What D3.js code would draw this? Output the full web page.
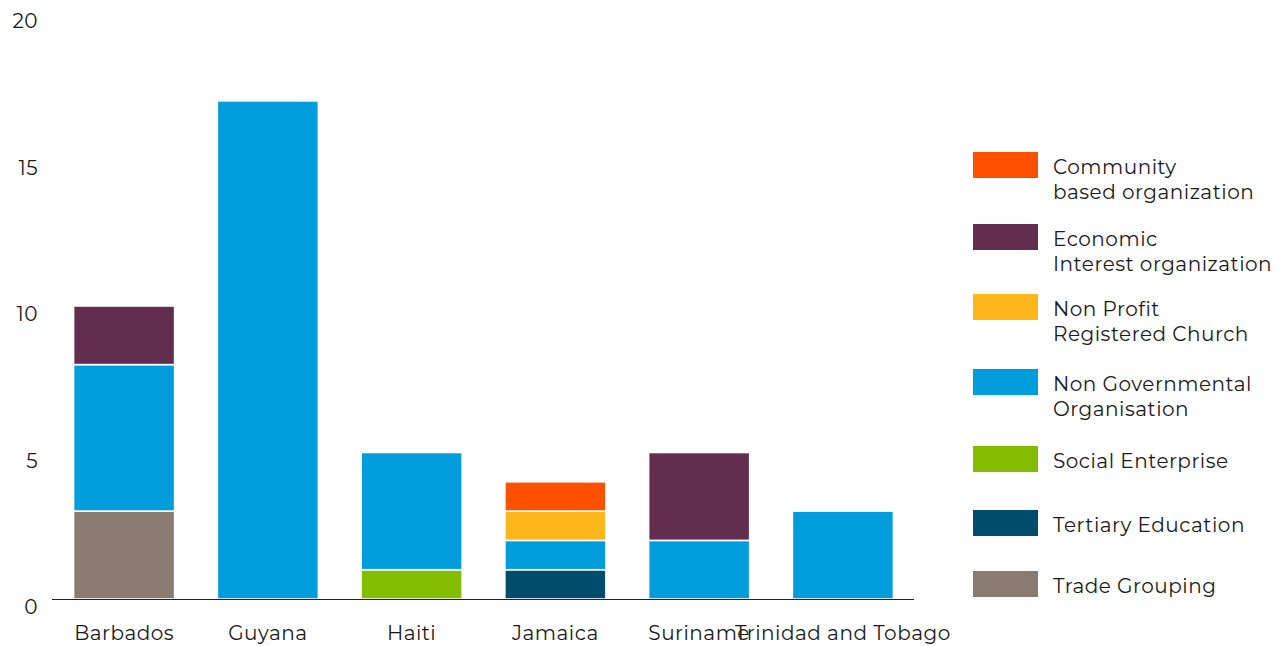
<!DOCTYPE html>
<html><head><meta charset="utf-8">
<script src="https://cdn.jsdelivr.net/npm/d3@7"></script>
<style>body{margin:0;background:#fff;} svg{display:block;} text{font-family:"Montserrat","Lato","Noto Sans",sans-serif;fill:#1a1a1a;letter-spacing:0.5px;}</style>
</head><body><svg id="c" width="1278" height="646"></svg>
<script>
const countries = ["Barbados","Guyana","Haiti","Jamaica","Suriname","Trinidad and Tobago"];
const seriesNames = ["Community based organization","Economic Interest organization","Non Profit Registered Church","Non Governmental Organisation","Social Enterprise","Tertiary Education","Trade Grouping"];
const legendLines = [["Community","based organization"],["Economic","Interest organization"],["Non Profit","Registered Church"],["Non Governmental","Organisation"],["Social Enterprise"],["Tertiary Education"],["Trade Grouping"]];
const seriesColors = ["#FF5000","#632D4F","#FDB71A","#009DDC","#84BD00","#004C6C","#8A7A6F"];
const community   = [0,0,0,1,0,0];
const economic    = [2,0,0,0,3,0];
const nonProfit   = [0,0,0,1,0,0];
const ngo         = [5,17,4,1,2,3];
const social      = [0,0,1,0,0,0];
const tertiary    = [0,0,0,1,0,0];
const trade       = [3,0,0,0,0,0];
const yTicks = [0,5,10,15,20];

const values = [community,economic,nonProfit,ngo,social,tertiary,trade];
const rows = countries.map((c,i)=>{const r={country:c}; seriesNames.forEach((s,j)=>r[s]=values[j][i]); return r;});
const stackKeys = seriesNames.slice().reverse();
const stacked = d3.stack().keys(stackKeys)(rows);
const color = d3.scaleOrdinal(seriesNames, seriesColors);

const svg = d3.select("#c");
const x = d3.scaleBand(countries,[52,915]).paddingInner(0.297).paddingOuter(0.15);
const y = d3.scaleLinear([0,20],[599,13]);

// y labels
svg.append("g").selectAll("text").data(yTicks).join("text")
  .attr("x",38).attr("y",d=>y(d)+10).attr("text-anchor","end").attr("dominant-baseline","middle")
  .attr("font-size",20).text(d=>d);

// bars
svg.append("g").selectAll("g").data(stacked).join("g").attr("fill",d=>color(d.key))
  .selectAll("rect").data(d=>d.filter(p=>p[1]-p[0]>0)).join("rect")
  .attr("x",d=>x(d.data.country)).attr("width",x.bandwidth())
  .attr("y",d=>y(d[1])).attr("height",d=>y(d[0])-y(d[1]))
  .attr("stroke","#fff").attr("stroke-width",1.6);

// axis line
svg.append("line").attr("x1",52).attr("x2",914).attr("y1",599.5).attr("y2",599.5).attr("stroke","#222").attr("stroke-width",1);

// x labels
svg.append("g").selectAll("text").data(countries).join("text")
  .attr("x",d=>x(d)+x.bandwidth()/2).attr("y",635).attr("text-anchor","middle").attr("dominant-baseline","middle")
  .attr("font-size",20).text(d=>d);

// legend
const swatchY = [152,224,294,369,446,510,571];
const lg = svg.append("g").selectAll("g").data(seriesNames).join("g")
  .attr("transform",(d,i)=>`translate(973,${swatchY[i]})`);
lg.append("rect").attr("width",65).attr("height",26).attr("fill",d=>color(d));
lg.each(function(d,i){
  const g=d3.select(this);
  legendLines[i].forEach((t,k)=>{
    g.append("text").attr("x",80).attr("y",17+k*25).attr("dominant-baseline","middle").attr("font-size",20).text(t);
  });
});
</script></body></html>
